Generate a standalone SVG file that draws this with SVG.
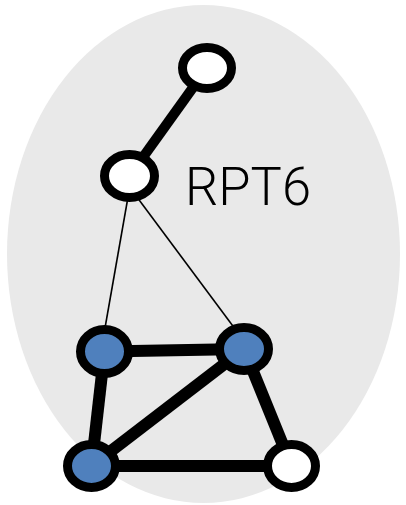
<svg xmlns="http://www.w3.org/2000/svg" width="406" height="505" viewBox="0 0 406 505">
  <style>
    .bg { fill: #e9e9e9; }
    .node { stroke: #000; stroke-width: 9; }
    .white { fill: #ffffff; }
    .blue { fill: #4f80bd; }
    .thick { stroke: #000; stroke-width: 12; stroke-linecap: butt; fill: none; }
    .thin { stroke: #000; stroke-width: 1.6; fill: none; }
    .label { font-family: Roboto, "Liberation Sans", Arial, sans-serif; font-weight: 300; font-size: 53px; fill: #000; }
  </style>

  <!-- complex outline -->
  <ellipse class="bg" cx="203.5" cy="254" rx="196.5" ry="249"/>

  <g id="edges">
    <line class="thick" x1="129.5" y1="176" x2="207" y2="68" style="stroke-width:10"/>
    <line class="thin" x1="131" y1="180" x2="102" y2="345"/>
    <line class="thin" x1="125" y1="181" x2="247" y2="345"/>
    <line class="thick" x1="104.5" y1="351.5" x2="244" y2="349"/>
    <line class="thick" x1="104.5" y1="351.5" x2="91.5" y2="466"/>
    <line class="thick" x1="244" y1="349" x2="91.5" y2="466"/>
    <line class="thick" x1="244" y1="349" x2="291.5" y2="466"/>
    <line class="thick" x1="91.5" y1="466" x2="291.5" y2="466"/>
  </g>

  <g id="node-top">
    <ellipse class="node white" cx="207" cy="68" rx="24.5" ry="20.5"/>
  </g>
  <g id="node-rpt6">
    <ellipse class="node white" cx="129.5" cy="176" rx="25" ry="21.5"/>
  </g>
  <g id="node-blue-left">
    <ellipse class="node blue" cx="104.5" cy="351.5" rx="24" ry="22"/>
  </g>
  <g id="node-blue-right">
    <ellipse class="node blue" cx="244" cy="349" rx="24.5" ry="21.5"/>
  </g>
  <g id="node-blue-bottom">
    <ellipse class="node blue" cx="91.5" cy="466" rx="24" ry="21.5"/>
  </g>
  <g id="node-white-bottom">
    <ellipse class="node white" cx="291.5" cy="466" rx="24" ry="21.5"/>
  </g>

  <text class="label" x="185" y="205" textLength="126" lengthAdjust="spacingAndGlyphs">RPT6</text>
</svg>
